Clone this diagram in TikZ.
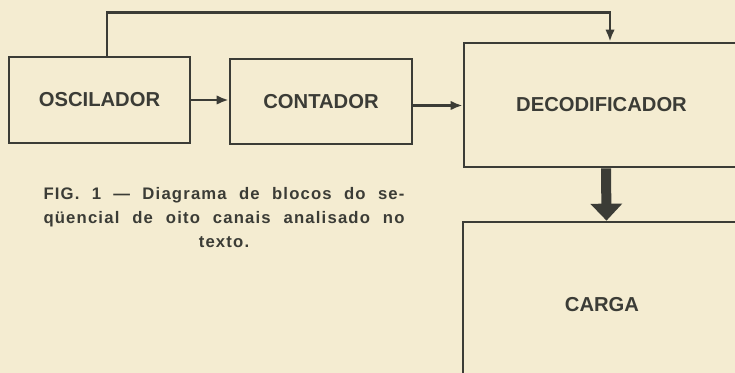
\documentclass[tikz,border=0pt]{standalone}
\usepackage{fontspec}
\setmainfont{Liberation Sans}
\newfontfamily\capfont[LetterSpace=7]{Liberation Sans}
\usepackage{xcolor}
\usetikzlibrary{arrows.meta, calc}

\definecolor{carta}{HTML}{F4ECD1}
\definecolor{inchiostro}{HTML}{3B3C36}

\begin{document}
\begin{tikzpicture}[>=Latex]

% Stili per blocchi e frecce
\tikzset{
  blocco/.style={draw=inchiostro, line width=1.5pt, text=inchiostro, inner sep=0pt,
    font=\fontsize{11.5}{13}\selectfont\bfseries},
  freccia/.style={draw=inchiostro, line width=1.4pt, -{Latex[length=2.4mm,width=1.9mm]}},
  frecciagrossa/.style={draw=inchiostro, line width=2mm, -{Triangle[length=3.4mm,width=6.2mm]}}
}

% --- Sfondo ---
\fill[carta] (0,0) rectangle (14.7,7.46);
\useasboundingbox (0,0) rectangle (14.7,7.46);
\clip (0,0) rectangle (14.7,7.46);

% --- Blocchi ---
\node[blocco, minimum width=3.62cm, minimum height=1.72cm] (osc) at (1.99,5.46) {OSCILADOR};
\node[blocco, minimum width=3.64cm, minimum height=1.70cm] (cont) at (6.42,5.43) {CONTADOR};
\node[blocco, minimum width=5.5cm, minimum height=2.48cm] (decod) at (12.03,5.36) {DECODIFICADOR};
\node[blocco, minimum width=5.56cm, minimum height=3.32cm] (carga) at (12.04,1.36) {CARGA};

% Frecce tra i blocchi
\draw[freccia] (osc.east) -- (osc.east -| cont.west);
\draw[freccia] ([yshift=-0.08cm]cont.east) -- ([yshift=-0.08cm]cont.east -| decod.west);

% Ritorno dall'oscillatore al decodificatore
\coordinate (ritorno) at ($(osc.north)+(0.15,0.86)$);
\draw[freccia] ($(osc.north)+(0.15,0)$) -- (ritorno) -| ($(decod.north)+(0.17,0)$);

% Freccia grossa verso il carico
\draw[frecciagrossa] ($(decod.south)+(0.09,0)$) -- ($(carga.north)+(0.09,0)$);

% --- Didascalia ---
\node[text=inchiostro, text width=7.22cm, align=justify, inner sep=0pt, anchor=north,
  font=\capfont\bfseries\fontsize{9.5}{13.6}\selectfont] (didascalia) at (4.48,3.72)
  {FIG. 1 — Diagrama de blocos do se-\linebreak qüencial de oito canais analisado no\linebreak\hspace*{\fill}texto.\hspace*{\fill}};
\end{tikzpicture}
\end{document}
